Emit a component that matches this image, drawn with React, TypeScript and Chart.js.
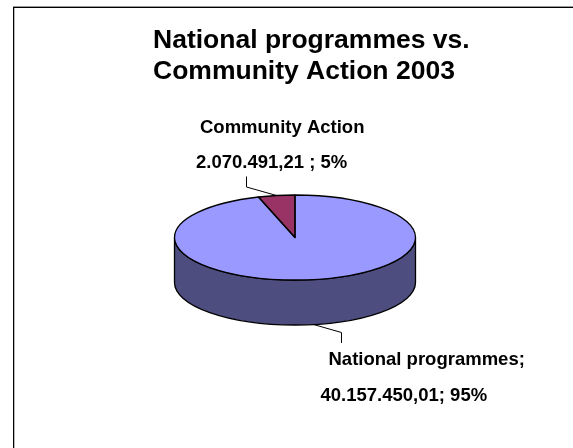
import React, { useEffect, useRef } from "react";
import { Chart, registerables } from "chart.js";

Chart.register(...registerables);

const categories = ["National programmes", "Community Action"];
const amounts = [40157450.01, 2070491.21];
const titleLines = ["National programmes vs.", "Community Action 2003"];
const sliceLabels = [
  ["National programmes;", "40.157.450,01; 95%"],
  ["Community Action", "2.070.491,21 ; 5%"],
];
const topColors = ["#9999FF", "#993366"];
const wallColor = "#4D4D80";

const FONT = '"Liberation Sans", Arial, sans-serif';
const SQUASH = 42.5 / 120.5; // vertical foreshortening of the disc
const DEPTH = 45; // height of the cylinder wall
const TITLE_LEFT = 153;

function squashed(ctx: CanvasRenderingContext2D, cx: number, cy: number, build: () => void) {
  ctx.save();
  ctx.translate(cx, cy);
  ctx.scale(1, SQUASH);
  build();
  ctx.restore();
}

// Tilts the pie into a disc and puts a wall beneath it.
const discPlugin = {
  id: "disc",
  afterLayout(chart: any) {
    // The title starts further right than the plot area it sits above.
    chart.titleBlock.left = TITLE_LEFT;
    chart.titleBlock.right = chart.width;
  },
  beforeDatasetsDraw(chart: Chart) {
    const ctx = chart.ctx;
    const first: any = chart.getDatasetMeta(0).data[0];
    const { x: cx, y: cy, outerRadius: r } = first;
    ctx.save();
    ctx.beginPath();
    squashed(ctx, cx, cy, () => ctx.arc(0, 0, r, 0, Math.PI));
    squashed(ctx, cx, cy + DEPTH, () => ctx.arc(0, 0, r, Math.PI, 0, true));
    ctx.closePath();
    ctx.fillStyle = wallColor;
    ctx.fill();
    ctx.strokeStyle = "#000";
    ctx.lineWidth = 1.3;
    ctx.stroke();
    ctx.restore();

    ctx.save();
    ctx.translate(cx, cy);
    ctx.scale(1, SQUASH);
    ctx.translate(-cx, -cy);
  },
  afterDatasetsDraw(chart: Chart) {
    const ctx = chart.ctx;
    ctx.restore();

    const arcs: any[] = chart.getDatasetMeta(0).data as any[];
    ctx.save();
    ctx.strokeStyle = "#000";
    ctx.lineWidth = 1.3;
    ctx.lineJoin = "round";
    arcs.forEach((a) => {
      ctx.beginPath();
      squashed(ctx, a.x, a.y, () => {
        ctx.moveTo(0, 0);
        ctx.arc(0, 0, a.outerRadius, a.startAngle, a.endAngle);
        ctx.closePath();
      });
      ctx.stroke();
    });

    // Leader lines start on the rim at the middle of each slice.
    ctx.lineWidth = 1;
    arcs.forEach((a, i) => {
      const mid = (a.startAngle + a.endAngle) / 2;
      const below = Math.sin(mid) > 0;
      const x = a.x + a.outerRadius * Math.cos(mid);
      const y = a.y + a.outerRadius * SQUASH * Math.sin(mid) + (below ? DEPTH : 0);
      const elbowX = x + (below ? 28 : -30);
      const elbowY = y + (below ? 8 : -8.5);
      const endY = elbowY + (below ? 10.5 : -10.5);
      ctx.beginPath();
      ctx.moveTo(x, y);
      ctx.lineTo(elbowX, elbowY);
      ctx.lineTo(elbowX, endY);
      ctx.stroke();

      ctx.fillStyle = "#000";
      ctx.font = `bold 18.5px ${FONT}`;
      ctx.textBaseline = "alphabetic";
      ctx.textAlign = "left";
      const [first, second] = sliceLabels[i];
      if (below) {
        ctx.fillText(first, elbowX - 13, endY + 22);
        ctx.fillText(second, elbowX - 21, endY + 58.5);
      } else {
        ctx.fillText(first, elbowX - 46.5, endY - 43.5);
        ctx.fillText(second, elbowX - 50.5, endY - 9);
      }
    });
    ctx.restore();
  },
};

export default function App() {
  const ref = useRef<HTMLCanvasElement>(null);

  useEffect(() => {
    const chart = new Chart(ref.current!, {
      type: "pie",
      data: {
        labels: categories,
        datasets: [
          {
            data: amounts,
            backgroundColor: topColors,
            borderWidth: 0,
            radius: 120.5,
          },
        ],
      },
      options: {
        responsive: false,
        animation: false,
        events: [],
        layout: { padding: { left: 17, right: 0, top: 20, bottom: 70 } },
        plugins: {
          legend: { display: false },
          tooltip: { enabled: false },
          title: {
            display: true,
            text: titleLines,
            align: "start",
            color: "#000",
            font: { family: FONT, size: 26.5, weight: "bold", lineHeight: 31 / 26.5 },
            padding: { top: 5, bottom: 10 },
          },
        },
      },
      plugins: [discPlugin],
    });
    return () => chart.destroy();
  }, []);

  return (
    <div style={{ position: "fixed", inset: 0, background: "#fff", overflow: "hidden" }}>
      <div style={{ position: "absolute", left: 13, top: 6, right: 0, height: 1, background: "#999" }} />
      <div style={{ position: "absolute", left: 13, top: 7, right: 0, height: 1, background: "#000" }} />
      <div style={{ position: "absolute", left: 13, top: 7, bottom: 0, width: 1, background: "#000" }} />
      <div style={{ position: "absolute", left: 14, top: 8, bottom: 0, width: 1, background: "#bbb" }} />
      <canvas ref={ref} width={573} height={448} style={{ position: "absolute", left: 0, top: 0 }} />
    </div>
  );
}
